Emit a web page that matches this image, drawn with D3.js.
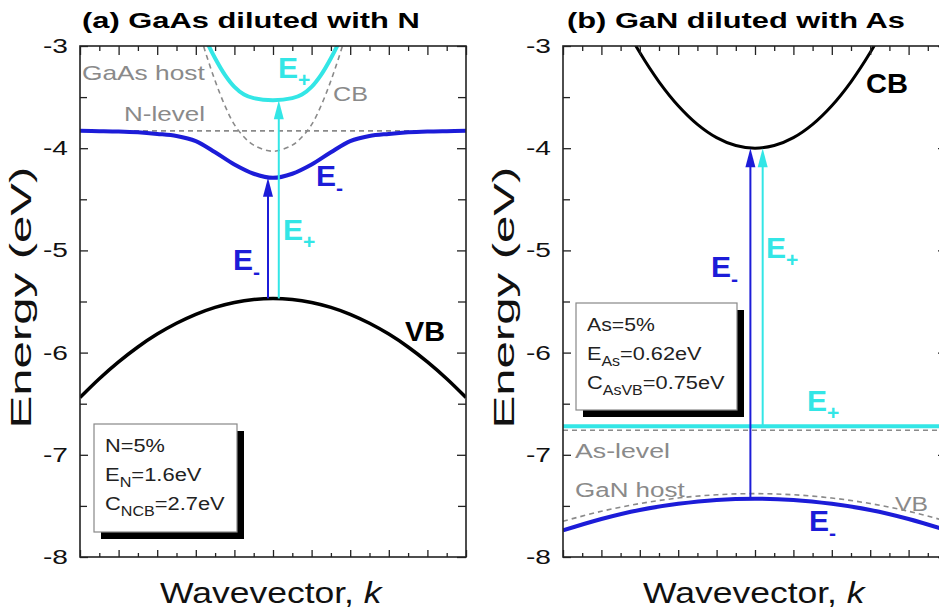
<!DOCTYPE html>
<html>
<head>
<meta charset="utf-8">
<script src="https://cdn.jsdelivr.net/npm/d3@7"></script>
<style>
  body { margin: 0; background: #fff; }
  text { font-family: Arial, "Liberation Sans", sans-serif; }
</style>
</head>
<body>
<div id="chart"></div>
<script>
const svgWidth = 939;
const svgHeight = 612;

// ---- data (k from -1 to 1, energy in eV) ----
// panel (a): GaAs diluted with N
const vbA_k = [-1, -0.9, -0.8, -0.7, -0.6, -0.5, -0.4, -0.3, -0.2, -0.1, 0, 0.1, 0.2, 0.3, 0.4, 0.5, 0.6, 0.7, 0.8, 0.9, 1];
const vbA_E = [-6.44, -6.256, -6.091, -5.945, -5.819, -5.713, -5.625, -5.557, -5.509, -5.48, -5.47, -5.48, -5.509, -5.557, -5.625, -5.713, -5.819, -5.945, -6.091, -6.256, -6.44];

const eMinusA_k = [-1, -0.9, -0.8, -0.7, -0.6, -0.5, -0.4, -0.3, -0.2, -0.1, 0, 0.1, 0.2, 0.3, 0.4, 0.5, 0.6, 0.7, 0.8, 0.9, 1];
const eMinusA_E = [-3.83, -3.833, -3.837, -3.845, -3.86, -3.88, -3.93, -4.04, -4.16, -4.25, -4.29, -4.25, -4.16, -4.04, -3.93, -3.88, -3.86, -3.845, -3.837, -3.833, -3.83];

const ePlusA_k = [-0.4, -0.35, -0.3, -0.25, -0.2, -0.15, -0.1, 0, 0.1, 0.15, 0.2, 0.25, 0.3, 0.35, 0.4];
const ePlusA_E = [-2.7, -2.93, -3.12, -3.28, -3.4, -3.475, -3.51, -3.53, -3.51, -3.475, -3.4, -3.28, -3.12, -2.93, -2.7];

const hostCbA_k = [-0.4, -0.35, -0.3, -0.25, -0.2, -0.15, -0.1, 0, 0.1, 0.15, 0.2, 0.25, 0.3, 0.35, 0.4];
const hostCbA_E = [-2.75, -3.06, -3.34, -3.58, -3.77, -3.89, -3.97, -4.03, -3.97, -3.89, -3.77, -3.58, -3.34, -3.06, -2.75];

const nLevel = -3.83;

// panel (b): GaN diluted with As
const cbB_k = [-0.7, -0.6, -0.5, -0.4, -0.3, -0.2, -0.1, 0, 0.1, 0.2, 0.3, 0.4, 0.5, 0.6, 0.7];
const cbB_E = [-2.726, -3.064, -3.35, -3.584, -3.766, -3.896, -3.974, -4.0, -3.974, -3.896, -3.766, -3.584, -3.35, -3.064, -2.726];

const vbB_k = [-1, -0.8, -0.6, -0.4, -0.2, 0, 0.2, 0.4, 0.6, 0.8, 1];
const hostVbB_E = [-7.65, -7.553, -7.477, -7.423, -7.391, -7.38, -7.391, -7.423, -7.477, -7.553, -7.65];
const eMinusB_E = [-7.74, -7.628, -7.54, -7.48, -7.442, -7.43, -7.442, -7.48, -7.54, -7.628, -7.74];

const ePlusB = -6.72;
const asLevel = -6.76;

// optical transitions: [k, from, to]
const arrowsA = [[-0.026, -5.47, -4.29], [0.03, -5.47, -3.53]];
const arrowsB = [[-0.024, -7.43, -4.0], [0.04, -6.72, -4.0]];

const yTicks = [-3, -4, -5, -6, -7, -8];

const blue = "#1c1cd8";
const cyan = "#33e6e6";
const gray = "#8a8a8a";

const svg = d3.select("#chart").append("svg")
  .attr("width", svgWidth)
  .attr("height", svgHeight);

const plotTop = 46, plotBottom = 557;

const y = d3.scaleLinear().domain([-8, -3]).range([plotBottom, plotTop]);

function zip(ks, es) {
  return ks.map((k, i) => ({ k: k, e: es[i] }));
}

// the source picture is a bit wider than tall, so stretch text sideways
function stretch(sel, width) {
  const bb = sel.node().getBBox();
  const s = width / bb.width;
  sel.attr("transform", `translate(${bb.x},0) scale(${s},1) translate(${-bb.x},0)`);
  return sel;
}

function drawPanel(id, left, right) {
  const x = d3.scaleLinear().domain([-1, 1]).range([left, right]);
  const g = svg.append("g");

  g.append("clipPath").attr("id", "clip" + id)
    .append("rect")
    .attr("x", left).attr("y", plotTop)
    .attr("width", right - left).attr("height", plotBottom - plotTop);

  const plot = g.append("g").attr("clip-path", `url(#clip${id})`);

  const major = d3.range(-1, 1.001, 0.2);
  const minor = d3.range(-0.9, 1, 0.2);

  // x ticks, inward
  g.append("g").attr("transform", `translate(0,${plotBottom})`)
    .call(d3.axisBottom(x).tickValues(major).tickSize(-7).tickSizeOuter(0).tickFormat(""));
  g.append("g").attr("transform", `translate(0,${plotBottom})`)
    .call(d3.axisBottom(x).tickValues(minor).tickSize(-4).tickSizeOuter(0).tickFormat(""));
  g.append("g").attr("transform", `translate(0,${plotTop})`)
    .call(d3.axisTop(x).tickValues(major).tickSize(-9).tickSizeOuter(0).tickFormat(""));
  g.append("g").attr("transform", `translate(0,${plotTop})`)
    .call(d3.axisTop(x).tickValues(minor).tickSize(-5).tickSizeOuter(0).tickFormat(""));

  // y ticks
  const yMinor = d3.range(-7.5, -3, 1);
  g.append("g").attr("class", "yaxis").attr("transform", `translate(${left},0)`)
    .call(d3.axisLeft(y).tickValues(yTicks).tickSize(-8).tickSizeOuter(0).tickPadding(12));
  g.append("g").attr("transform", `translate(${left},0)`)
    .call(d3.axisLeft(y).tickValues(yMinor).tickSize(-7).tickSizeOuter(0).tickFormat(""));
  g.append("g").attr("transform", `translate(${right},0)`)
    .call(d3.axisRight(y).tickValues(yTicks).tickSize(-9).tickSizeOuter(0).tickFormat(""));
  g.append("g").attr("transform", `translate(${right},0)`)
    .call(d3.axisRight(y).tickValues(yMinor).tickSize(-8).tickSizeOuter(0).tickFormat(""));

  g.selectAll(".domain").remove();
  g.selectAll(".tick line").attr("stroke", "#222").attr("stroke-width", 1.3);
  g.selectAll(".yaxis text")
    .style("font-size", "20px").attr("fill", "#111")
    .attr("textLength", 25).attr("lengthAdjust", "spacingAndGlyphs")
    .text(d => String(d));

  // frame
  g.append("rect")
    .attr("x", left).attr("y", plotTop)
    .attr("width", right - left).attr("height", plotBottom - plotTop)
    .attr("fill", "none").attr("stroke", "#222").attr("stroke-width", 1.6);

  // axis titles
  svg.append("text")
    .attr("transform", `translate(${left - 49},${(plotTop + plotBottom) / 2 - 4}) rotate(-90)`)
    .attr("text-anchor", "middle")
    .attr("textLength", 262).attr("lengthAdjust", "spacingAndGlyphs")
    .style("font-size", "30px").attr("fill", "#111")
    .text("Energy (eV)");

  const xl = svg.append("text")
    .attr("x", left + 80).attr("y", 603)
    .style("font-size", "30px").attr("fill", "#111");
  xl.append("tspan").text("Wavevector, ");
  xl.append("tspan").style("font-style", "italic").text("k");
  stretch(xl, 224);

  return { x: x, g: g, plot: plot };
}

function curve(plot, x, pts, color, width, dash) {
  const line = d3.line()
    .x(d => x(d.k))
    .y(d => y(d.e))
    .curve(d3.curveCatmullRom);
  plot.append("path")
    .datum(pts)
    .attr("d", line)
    .attr("fill", "none")
    .attr("stroke", color)
    .attr("stroke-width", width)
    .attr("stroke-dasharray", dash || null);
}

function arrow(g, x, a, color) {
  const px = x(a[0]);
  const y0 = y(a[1]), y1 = y(a[2]);
  g.append("line")
    .attr("x1", px).attr("x2", px)
    .attr("y1", y0).attr("y2", y1 + 14)
    .attr("stroke", color).attr("stroke-width", 2);
  g.append("path")
    .attr("d", `M${px},${y1} L${px - 5},${y1 + 19} L${px + 5},${y1 + 19} Z`)
    .attr("fill", color);
}

function label(px, py, main, sub, color, size, weight, width) {
  const t = svg.append("text")
    .attr("x", px).attr("y", py)
    .attr("fill", color)
    .style("font-size", size + "px")
    .style("font-weight", weight || "normal");
  t.append("tspan").text(main);
  if (sub) {
    t.append("tspan")
      .attr("dy", size * 0.3)
      .style("font-size", (size * 0.7) + "px")
      .text(sub);
  }
  if (width) stretch(t, width);
  return t;
}

function legendBox(bx, by, bw, bh, lines, widths) {
  svg.append("rect")
    .attr("x", bx + 7).attr("y", by + 7)
    .attr("width", bw).attr("height", bh)
    .attr("fill", "#000");
  svg.append("rect")
    .attr("x", bx).attr("y", by)
    .attr("width", bw).attr("height", bh)
    .attr("fill", "#fff").attr("stroke", "#888").attr("stroke-width", 1.2);
  lines.forEach((ln, i) => {
    const t = svg.append("text")
      .attr("x", bx + 11).attr("y", by + 28 + i * 29)
      .attr("fill", "#222")
      .style("font-size", "19px");
    t.append("tspan").text(ln[0]);
    if (ln[1]) {
      t.append("tspan").attr("dy", 6).style("font-size", "14px").text(ln[1]);
      t.append("tspan").attr("dy", -6).text(ln[2]);
    }
    stretch(t, widths[i]);
  });
}

// ---------- panel (a) ----------
const pa = drawPanel("a", 80, 466);

curve(pa.plot, pa.x, zip(hostCbA_k, hostCbA_E), gray, 1.6, "5,4");
pa.plot.append("line")
  .attr("x1", pa.x(-1)).attr("x2", pa.x(1))
  .attr("y1", y(nLevel)).attr("y2", y(nLevel))
  .attr("stroke", gray).attr("stroke-width", 1.6).attr("stroke-dasharray", "5,4");
curve(pa.plot, pa.x, zip(vbA_k, vbA_E), "#000", 3.5);
curve(pa.plot, pa.x, zip(eMinusA_k, eMinusA_E), blue, 4);
curve(pa.plot, pa.x, zip(ePlusA_k, ePlusA_E), cyan, 4);
arrow(pa.g, pa.x, arrowsA[0], blue);
arrow(pa.g, pa.x, arrowsA[1], cyan);

label(82, 28, "(a) GaAs diluted with N", null, "#000", 22, "bold", 338);

label(82, 80, "GaAs host", null, gray, 21, null, 123);
label(333, 101, "CB", null, gray, 21, null, 35);
label(124, 121, "N-level", null, gray, 21, null, 81);
label(405, 341, "VB", null, "#000", 28, "bold", 40);
label(278, 78, "E", "+", cyan, 30, "bold");
label(316, 186, "E", "-", blue, 30, "bold");
label(233, 270, "E", "-", blue, 30, "bold");
label(283, 240, "E", "+", cyan, 30, "bold");

legendBox(94, 424, 143, 108, [["N=5%"], ["E", "N", "=1.6eV"], ["C", "NCB", "=2.7eV"]], [60, 97, 120]);

// ---------- panel (b) ----------
const pb = drawPanel("b", 563, 947);

pb.plot.append("line")
  .attr("x1", pb.x(-1)).attr("x2", pb.x(1))
  .attr("y1", y(asLevel)).attr("y2", y(asLevel))
  .attr("stroke", gray).attr("stroke-width", 1.6).attr("stroke-dasharray", "5,4");
curve(pb.plot, pb.x, zip(vbB_k, hostVbB_E), gray, 1.6, "5,4");
curve(pb.plot, pb.x, zip(vbB_k, eMinusB_E), blue, 4);
pb.plot.append("line")
  .attr("x1", pb.x(-1)).attr("x2", pb.x(1))
  .attr("y1", y(ePlusB)).attr("y2", y(ePlusB))
  .attr("stroke", cyan).attr("stroke-width", 4);
curve(pb.plot, pb.x, zip(cbB_k, cbB_E), "#000", 3);
arrow(pb.g, pb.x, arrowsB[0], blue);
arrow(pb.g, pb.x, arrowsB[1], cyan);

label(567, 28, "(b) GaN diluted with As", null, "#000", 22, "bold", 338);

label(866, 93, "CB", null, "#000", 28, "bold", 42);
label(711, 277, "E", "-", blue, 30, "bold");
label(766, 258, "E", "+", cyan, 30, "bold");
label(807, 411, "E", "+", cyan, 30, "bold");
label(809, 531, "E", "-", blue, 30, "bold");
label(575, 458, "As-level", null, gray, 21, null, 95);
label(575, 497, "GaN host", null, gray, 21, null, 110);
label(895, 511, "VB", null, gray, 21, null, 33);

legendBox(576, 303, 161, 107, [["As=5%"], ["E", "As", "=0.62eV"], ["C", "AsVB", "=0.75eV"]], [68, 115, 138]);
</script>
</body>
</html>
